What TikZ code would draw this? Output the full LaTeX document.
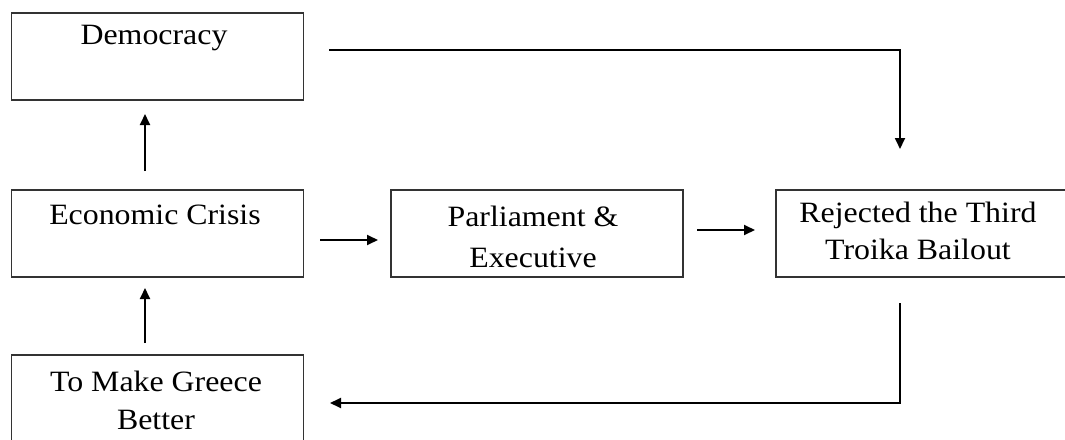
\documentclass[tikz,border=0pt]{standalone}
\usepackage{fontspec}
\setmainfont{Liberation Serif}[FakeStretch=1.08]
\usetikzlibrary{arrows.meta}
\begin{document}
\begin{tikzpicture}[x=1pt,y=-1pt,
  box/.style={draw=black!80, line width=1.8pt, minimum width=292pt, minimum height=87pt, inner sep=0pt, anchor=north west},
  lbl/.style={font=\fontsize{29.5}{38}\selectfont, align=center, inner sep=0pt},
  conn/.style={line width=1.8pt, -{Triangle[length=11pt,width=10pt]}}]
\useasboundingbox (0,0) rectangle (1065,439);
\clip (0,0) rectangle (1065,439);
% boxes
\node[box] (dem) at (10.5,12) {};
\node[box] (eco) at (10.5,189) {};
\node[box] (par) at (390,189) {};
\node[box, minimum width=300pt] (rej) at (775,189) {};
\node[box, minimum height=110pt] (gre) at (10.5,354) {};
% labels
\node[lbl] (demt) at (154,38) {Democracy};
\node[lbl] (ecot) at (155,215) {Economic Crisis};
\node[lbl, font=\fontsize{29.5}{41}\selectfont] (part) at (533,237) {Parliament \&\\Executive};
\node[lbl, font=\fontsize{29.5}{37}\selectfont] (rejt) at (918,231) {Rejected the Third\\Troika Bailout};
\node[lbl] (gret) at (156,400) {To Make Greece\\Better};
% connector end points
\coordinate (a1) at (329,50);
\coordinate (a2) at (900,149);
\coordinate (b1) at (145,171);
\coordinate (b2) at (145,114);
\coordinate (c1) at (145,343);
\coordinate (c2) at (145,288);
\coordinate (e1) at (320,240);
\coordinate (e2) at (378,240);
\coordinate (f1) at (697,230);
\coordinate (f2) at (755,230);
\coordinate (g1) at (900,303);
\coordinate (g2) at (330,403);
% connectors
\draw[conn] (a1) -| (a2);
\draw[conn] (b1) -- (b2);
\draw[conn] (c1) -- (c2);
\draw[conn] (e1) -- (e2);
\draw[conn] (f1) -- (f2);
\draw[conn] (g1) |- (g2);
\end{tikzpicture}
\end{document}
